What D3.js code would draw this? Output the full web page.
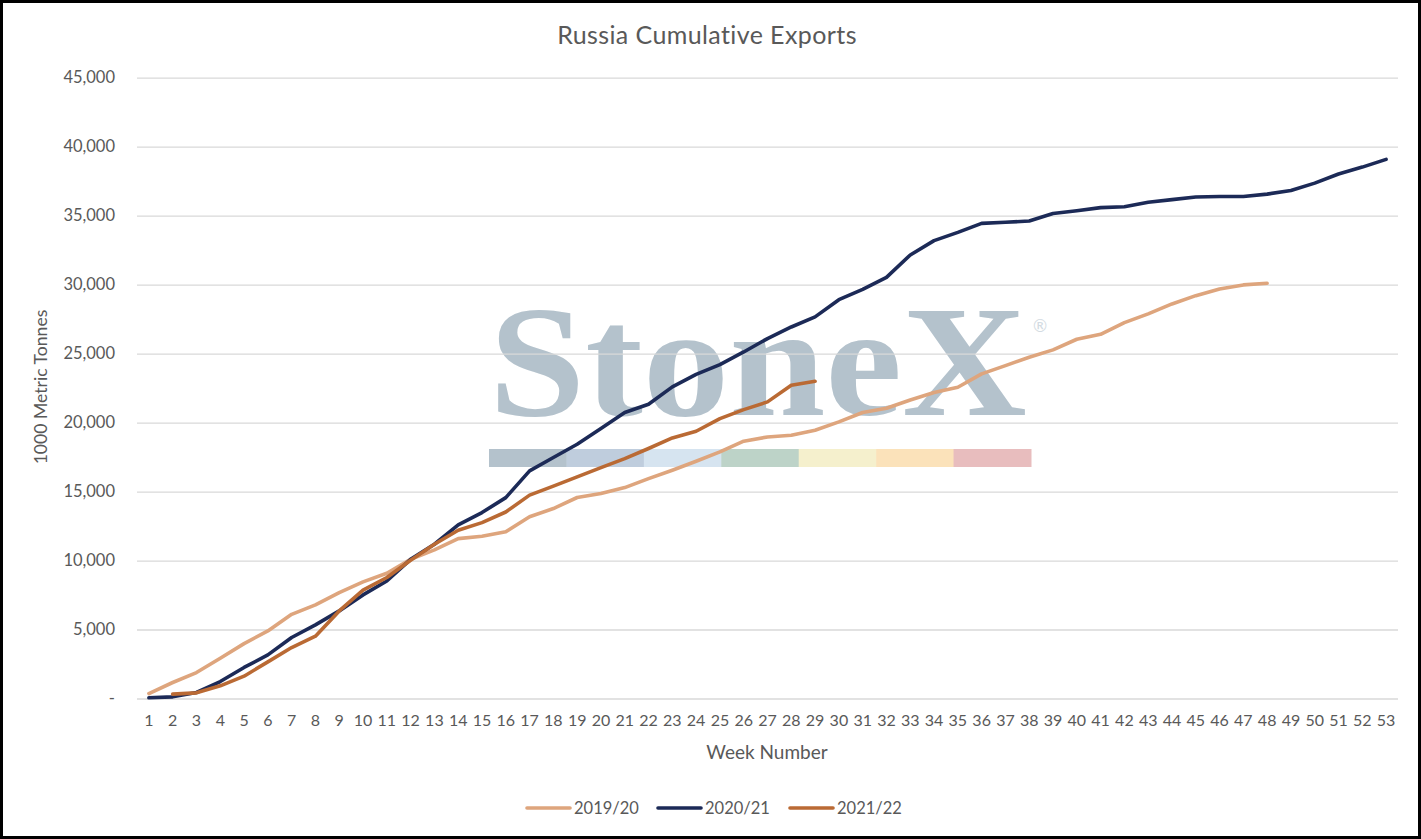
<!DOCTYPE html>
<html>
<head>
<meta charset="utf-8">
<script src="https://cdn.jsdelivr.net/npm/d3@7"></script>
<style>
  html, body { margin: 0; padding: 0; background: #fff; }
  svg { display: block; }
</style>
</head>
<body>
<svg></svg>
<script>
// chart data
const weeks = d3.range(1, 54)
const exports1920 = [360, 1160, 1880, 2920, 3980, 4900, 6100, 6790, 7680, 8450,
    9080, 10090, 10770, 11590, 11760, 12080, 13170, 13770, 14570, 14860,
    15290, 15940, 16550, 17200, 17880, 18650, 18960, 19080, 19450, 20050,
    20730, 21040, 21640, 22180, 22560, 23530, 24130, 24740, 25270, 26040,
    26400, 27250, 27880, 28600, 29200, 29690, 29980, 30100]
const exports2021 = [50, 120, 435, 1230, 2250, 3160, 4420, 5340, 6350, 7510,
    8520, 10090, 11180, 12580, 13480, 14560, 16500, 17470, 18430, 19570,
    20730, 21330, 22590, 23500, 24200, 25120, 26090, 26930, 27660, 28910,
    29650, 30530, 32150, 33190, 33790, 34440, 34520, 34610, 35150, 35350,
    35580, 35650, 35970, 36160, 36350, 36390, 36390, 36560, 36830, 37360,
    38020, 38520, 39080]
// 2021/22 starts at week 2
const exports2122 = [null, 314, 410, 918, 1618, 2657, 3695, 4516, 6350, 7850,
    8770, 10020, 11180, 12200, 12750, 13520, 14740, 15390, 16070, 16740,
    17390, 18120, 18890, 19370, 20290, 20940, 21500, 22710, 23000]
const seriesNames = ['2019/20', '2020/21', '2021/22']
const seriesColors = ['#dea57d', '#1c2a57', '#ba6a34']
const yTicks = [0, 5000, 10000, 15000, 20000, 25000, 30000, 35000, 40000, 45000]
const watermarkColors = ['#b4c2cc', '#bfcddd', '#d6e4f0', '#bdd3c8', '#f5f0cd', '#fbe2ba', '#e8bdbe']

const width = 1421
const height = 839
const font = 'Lato, "Open Sans", sans-serif'
const textColor = '#595959'
const svg = d3.select('svg').attr('width', width).attr('height', height)

const xScale = d3.scaleBand().domain(weeks).range([137, 1398])
const xPos = (w) => xScale(w) + xScale.bandwidth() / 2
const yScale = d3.scaleLinear().domain([0, 45000]).range([698.5, 77.7])

// watermark sits behind everything
const drawWatermark = () => {
    const wm = svg.append('g').attr('class', 'watermark')
    wm.append('text')
        .attr('x', 489)
        .attr('y', 415)
        .attr('textLength', 538)
        .attr('lengthAdjust', 'spacingAndGlyphs')
        .style('font-family', '"Liberation Serif", "DejaVu Serif", serif')
        .style('font-size', '158px')
        .style('font-weight', 'bold')
        .style('fill', '#b4c2cc')
        .text('StoneX')
    wm.append('text')
        .attr('x', 1040)
        .attr('y', 332)
        .attr('text-anchor', 'middle')
        .style('font-family', font)
        .style('font-size', '17px')
        .style('fill', '#d3dbe2')
        .text('®')
    const segW = (1031 - 489) / watermarkColors.length
    wm.selectAll('rect')
        .data(watermarkColors)
        .enter()
        .append('rect')
        .attr('x', (d, i) => 489 + i * segW)
        .attr('y', 449)
        .attr('width', segW + 0.5)
        .attr('height', 18)
        .attr('fill', (d) => d)
}

const drawAxes = () => {
    const yAxis = d3.axisLeft(yScale)
        .tickValues(yTicks)
        .tickSize(-(1398 - 137))
        .tickPadding(22)
        .tickFormat((d) => d === 0 ? '-' : d3.format(',')(d))
    const gy = svg.append('g')
        .attr('id', 'y-axis')
        .attr('transform', 'translate(137, 0)')
        .call(yAxis)
    gy.select('.domain').remove()
    gy.selectAll('line').attr('stroke', '#d9d9d9').attr('stroke-width', 1.3)
    gy.selectAll('text')
        .style('font-family', font)
        .style('font-size', '16.5px')
        .style('fill', textColor)

    const xAxis = d3.axisBottom(xScale).tickSize(0).tickPadding(16)
    const gx = svg.append('g')
        .attr('id', 'x-axis')
        .attr('transform', 'translate(0, 698.5)')
        .call(xAxis)
    gx.select('.domain').remove()
    gx.selectAll('text')
        .style('font-family', font)
        .style('font-size', '16px')
        .style('fill', textColor)
}

const drawLines = () => {
    const seriesData = [exports1920, exports2021, exports2122]
    const line = d3.line()
        .defined((d) => d != null)
        .x((d, i) => xPos(weeks[i]))
        .y((d) => yScale(d))
    svg.append('g')
        .selectAll('path')
        .data(seriesData)
        .enter()
        .append('path')
        .attr('d', (d) => line(d))
        .attr('fill', 'none')
        .attr('stroke', (d, i) => seriesColors[i])
        .attr('stroke-width', 3.6)
        .attr('stroke-linejoin', 'round')
        .attr('stroke-linecap', 'round')
}

const drawLabels = () => {
    svg.append('text')
        .attr('x', 707)
        .attr('y', 44)
        .attr('text-anchor', 'middle')
        .style('font-family', font)
        .style('font-size', '25px')
        .style('letter-spacing', '0.4px')
        .style('fill', textColor)
        .text('Russia Cumulative Exports')
    svg.append('text')
        .attr('x', 767)
        .attr('y', 759)
        .attr('text-anchor', 'middle')
        .style('font-family', font)
        .style('font-size', '19px')
        .style('fill', textColor)
        .text('Week Number')
    svg.append('text')
        .attr('transform', 'translate(47, 387) rotate(-90)')
        .attr('text-anchor', 'middle')
        .style('font-family', font)
        .style('font-size', '17.6px')
        .style('fill', textColor)
        .text('1000  Metric Tonnes')
}

const drawLegend = () => {
    const legendX = [527, 658, 790]
    const items = svg.append('g')
        .selectAll('g')
        .data(seriesNames)
        .enter()
        .append('g')
        .attr('transform', (d, i) => 'translate(' + legendX[i] + ', 808)')
    items.append('line')
        .attr('x1', 0).attr('x2', 43)
        .attr('stroke', (d, i) => seriesColors[i])
        .attr('stroke-width', 3.6)
        .attr('stroke-linecap', 'round')
    items.append('text')
        .attr('x', 47)
        .attr('dy', '0.35em')
        .style('font-family', font)
        .style('font-size', '16.5px')
        .style('fill', textColor)
        .text((d) => d)
}

const drawFrame = () => {
    svg.append('rect')
        .attr('x', 1.5).attr('y', 1.5)
        .attr('width', width - 3).attr('height', height - 3)
        .attr('fill', 'none')
        .attr('stroke', '#000')
        .attr('stroke-width', 3)
}

drawWatermark()
drawAxes()
drawLines()
drawLabels()
drawLegend()
drawFrame()
</script>
</body>
</html>
